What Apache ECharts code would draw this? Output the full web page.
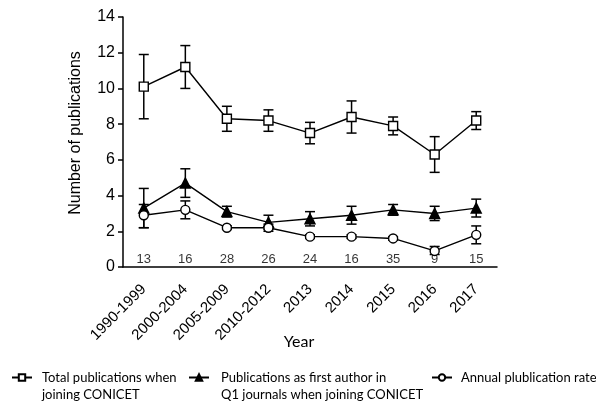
<!DOCTYPE html>
<html><head><meta charset="utf-8">
<script src="https://cdn.jsdelivr.net/npm/echarts@6/dist/echarts.min.js"></script>
<style>html,body{margin:0;padding:0;background:#fff}#c{width:596px;height:401px}</style>
</head><body><div id="c"></div>
<script>
const categories = ['1990-1999','2000-2004','2005-2009','2010-2012','2013','2014','2015','2016','2017'];
const sampleSizes = [13,16,28,26,24,16,35,9,15];
const totalMean = [10.1,11.2,8.3,8.2,7.5,8.4,7.9,6.3,8.2];
const totalLow  = [8.3,10.0,7.6,7.6,6.9,7.5,7.4,5.3,7.7];
const totalHigh = [11.9,12.4,9.0,8.8,8.1,9.3,8.4,7.3,8.7];
const q1Mean = [3.3,4.7,3.1,2.5,2.7,2.9,3.2,3.0,3.3];
const q1Low  = [2.2,3.9,2.8,2.1,2.3,2.4,2.9,2.6,2.8];
const q1High = [4.4,5.5,3.4,2.9,3.1,3.4,3.5,3.4,3.8];
const rateMean = [2.9,3.2,2.2,2.2,1.7,1.7,1.6,0.9,1.8];
const rateLow  = [2.2,2.7,2.1,2.0,1.6,1.6,1.5,0.7,1.3];
const rateHigh = [3.5,3.7,2.3,2.4,1.8,1.8,1.7,1.15,2.3];
const seriesNames = ['Total publications when\njoining CONICET','Publications as first author in\nQ1 journals when joining CONICET','Annual plublication rate'];
const yAxisName = 'Number of publications';
const xAxisName = 'Year';

const chart = echarts.init(document.getElementById('c'), null, {renderer:'canvas'});
const BLACK = '#000';
const axisFont = 'Liberation Sans, Arial, sans-serif';
const legendFont = 'Lato, sans-serif';

function errRender(params, api){
  const x = api.value(0), lo = api.value(1), hi = api.value(2);
  const a = api.coord([x, lo]), b = api.coord([x, hi]);
  const w = 5;
  const st = {stroke: BLACK, lineWidth: 1.5};
  return {type:'group', children:[
    {type:'line', shape:{x1:a[0],y1:a[1],x2:b[0],y2:b[1]}, style:st},
    {type:'line', shape:{x1:a[0]-w,y1:a[1],x2:a[0]+w,y2:a[1]}, style:st},
    {type:'line', shape:{x1:b[0]-w,y1:b[1],x2:b[0]+w,y2:b[1]}, style:st}
  ]};
}
function errData(lo, hi){ return lo.map((v,i)=>[i, v, hi[i]]); }
function errSeries(lo, hi){
  return {type:'custom', renderItem: errRender, data: errData(lo, hi), z:1, silent:true,
          encode:{x:0, y:[1,2]}};
}
function lineSeries(name, data, symbol, size, fill){
  return {type:'line', name, data, symbol, symbolSize:size, z:3,
    lineStyle:{color:BLACK, width:1.4},
    itemStyle:{color:fill, borderColor:BLACK, borderWidth:1.4},
    emphasis:{disabled:true}};
}
function legendAt(left, top, name, multi, gap){
  return {left, top, padding:0, itemWidth:20, itemHeight:8, data:[name], selectedMode:false,
    formatter: multi ? (n => '\n' + n) : (n => n),
    textStyle:{fontFamily:legendFont, fontSize:13, color:BLACK, lineHeight:17,
               padding:[0,0,0,gap]}};
}

chart.setOption({
  animation:false,
  backgroundColor:'#fff',
  grid:{left:123, right:99, top:17, bottom:134},
  legend:[
    legendAt(11, 352, seriesNames[0], true, 5),
    legendAt(188, 352, seriesNames[1], true, 7),
    legendAt(431, 369, seriesNames[2], false, 4)
  ],
  xAxis:{type:'category', data:categories, boundaryGap:true,
    name:xAxisName, nameLocation:'middle', nameGap:67, nameMoveOverlap:false,
    nameTextStyle:{fontFamily:legendFont, fontSize:16, color:BLACK, padding:[0,22,0,0]},
    axisLine:{lineStyle:{color:BLACK, width:1.5}},
    axisTick:{alignWithLabel:true, length:6, lineStyle:{color:BLACK, width:1.5}},
    axisLabel:{rotate:45, fontSize:15, color:BLACK, fontFamily:axisFont, margin:20, interval:0},
    splitLine:{show:false}},
  yAxis:{type:'value', min:0, max:14, interval:2,
    name:yAxisName, nameLocation:'middle', nameGap:39, nameMoveOverlap:false,
    nameTextStyle:{fontFamily:axisFont, fontSize:16, color:BLACK, padding:[0,0,0,18]},
    axisLine:{show:true, lineStyle:{color:BLACK, width:1.5}},
    axisTick:{show:true, length:5, lineStyle:{color:BLACK, width:1.5}},
    axisLabel:{fontSize:16, color:BLACK, fontFamily:axisFont, margin:8},
    splitLine:{show:false}},
  series:[
    errSeries(totalLow, totalHigh),
    errSeries(q1Low, q1High),
    errSeries(rateLow, rateHigh),
    lineSeries(seriesNames[0], totalMean, 'rect', 9, '#fff'),
    lineSeries(seriesNames[1], q1Mean, 'triangle', 10, BLACK),
    lineSeries(seriesNames[2], rateMean, 'circle', 9, '#fff'),
    {type:'scatter', data: sampleSizes.map((n,i)=>[i, 0.4, n]), symbolSize:1,
     itemStyle:{color:'rgba(0,0,0,0)'}, silent:true, z:2,
     label:{show:true, position:'inside', formatter:p=>String(p.value[2]),
            fontSize:13, color:BLACK, fontFamily:axisFont}}
  ]
});
</script></body></html>
